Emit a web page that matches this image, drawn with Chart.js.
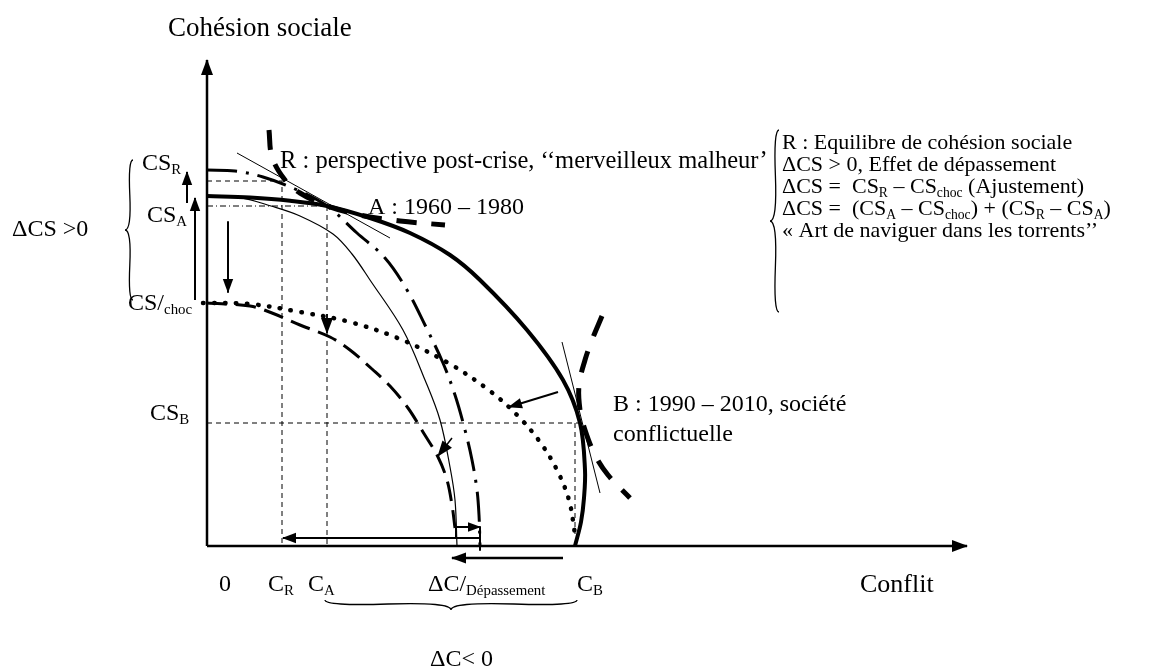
<!DOCTYPE html>
<html>
<head>
<meta charset="utf-8">
<title>Cohésion sociale et conflit</title>
<script src="https://cdn.jsdelivr.net/npm/chart.js@4.4.1/dist/chart.umd.min.js"></script>
<style>
  html, body { margin: 0; padding: 0; background: #fff; }
  canvas { display: block; }
</style>
</head>
<body>
<canvas id="myChart" width="1162" height="670"></canvas>
<script>
// levels on the two axes (conflit on x, cohesion sociale on y)
const csR = 91.25, csA = 85, csChoc = 60.75, csB = 30.75;
const cR = 18.75, cA = 30, cB = 92;

// frontier A-B (thick solid)
const frontierX = [0, 10.75, 20.75, 30, 40.75, 50.75, 60.75, 68.25, 80, 89, 93.25, 94.5, 94.25, 93.5, 92];
const frontierY = [87.5, 87.1, 86.3, 85, 82, 78.25, 72.75, 66.5, 54, 41.5, 30.75, 19, 12, 6, 0];

// inner frontier (thin solid)
const innerX = [0, 8.25, 16, 23.25, 31.5, 36.25, 40.75, 49, 54.5, 58.25, 60.75, 62, 62.5];
const innerY = [87.5, 87.1, 85, 82.5, 78, 73, 66.5, 54, 41.5, 31.5, 19.75, 11.5, 0];

// post-crisis frontier R (dash-dot)
const postX = [0, 7, 14, 22, 30, 37.5, 44.5, 50, 54.5, 59, 62, 64.5, 66.25, 67.5, 68, 68.25];
const postY = [94, 93.75, 92.25, 89.25, 85, 78.25, 72, 64, 55.25, 45.75, 37.75, 29, 21.5, 14, 7.75, 0];

// shock frontier (dotted)
const chocX = [-1, 10.75, 23.25, 35.75, 48.25, 60.75, 70.75, 77.75, 83.25, 87.5, 90.5, 92];
const chocY = [60.75, 60.5, 58.5, 56, 51.75, 45.5, 38.75, 32.5, 26, 19, 11.5, 3];

// adjusted frontier (dashed)
const adjX = [0, 10.75, 16.25, 23.25, 30.75, 35.75, 41.25, 45.75, 50.25, 54, 57.75, 60, 61.25, 62];
const adjY = [60.75, 60, 58.25, 55.25, 52.25, 49, 44.25, 40, 34.5, 28.5, 22.25, 16.5, 10.25, 4.5];

// indifference curves at R/A and at B (thick dashed)
const indifAX = [15.5, 16.25, 19.5, 23.25, 30, 38.25, 48.25, 59.5];
const indifAY = [104, 97.25, 91.5, 88.25, 85, 82.75, 81.25, 80.25];
const indifBX = [98.75, 96.25, 94.5, 93, 93.25, 94.5, 97, 100.25, 105.75];
const indifBY = [57.5, 51.5, 46.5, 40.25, 34, 29, 22.75, 17.75, 12];

// tangents
const tanAX = [7.5, 45.75], tanAY = [98.25, 77];
const tanBX = [88.75, 98.25], tanBY = [51, 13.25];

// tick labels
const xTickLabels = ['0', 'C_{R}', 'C_{A}', 'ΔC/_{Dépassement}', 'C_{B}'];
const yTickLabels = ['CS_{R}', 'CS_{A}', 'CS/_{choc}', 'CS_{B}'];

const pts = (xs, ys) => xs.map((v, i) => ({x: v, y: ys[i]}));
const seg = (...p) => p.map(q => ({x: q[0], y: q[1]}));

const F = '"Liberation Serif", "Times New Roman", serif';

function line(data, opts) {
  return Object.assign({
    data: data, showLine: true, pointRadius: 0, borderColor: '#000',
    borderWidth: 1, tension: 0, fill: false, borderJoinStyle: 'round'
  }, opts);
}

const datasets = [
  // axes
  line(seg([0, 0], [0, 121.5]), {borderWidth: 2.5, head: 15}),
  line(seg([0, 0], [190, 0]), {borderWidth: 2.5, head: 15}),
  // reference lines
  line(seg([0, csR], [cR, csR], [cR, 0]), {borderDash: [5, 4]}),
  line(seg([0, csA], [cA, csA]), {borderDash: [6, 3, 1, 3]}),
  line(seg([cA, csA], [cA, 0]), {borderDash: [5, 4]}),
  line(seg([0, csB], [cB + 0.75, csB]), {borderDash: [5, 4]}),
  line(seg([cB, csB], [cB, 3]), {borderDash: [5, 4]}),
  // curves
  line(pts(innerX, innerY), {borderWidth: 1.2, tension: 0.35}),
  line(pts(postX, postY), {borderWidth: 3, tension: 0.35, borderDash: [30, 9, 3, 9]}),
  line(pts(chocX, chocY), {borderWidth: 4.5, tension: 0.35, borderDash: [0.5, 10.5], borderCapStyle: 'round'}),
  line(pts(adjX, adjY), {borderWidth: 3, tension: 0.35, borderDash: [20, 9]}),
  line(pts(frontierX, frontierY), {borderWidth: 4, tension: 0.35}),
  line(pts(indifAX, indifAY), {borderWidth: 5, tension: 0.35, borderDash: [20, 15]}),
  line(pts(indifBX, indifBY), {borderWidth: 5, tension: 0.35, borderDash: [22, 16]}),
  line(pts(tanAX, tanAY), {borderWidth: 1}),
  line(pts(tanBX, tanBY), {borderWidth: 1}),
  // arrows
  line(seg([-3, csChoc + 0.75], [-3, 87]), {borderWidth: 2, head: 13}),
  line(seg([-5, csA + 0.75], [-5, 93.5]), {borderWidth: 2, head: 13}),
  line(seg([5.25, 81], [5.25, 63.5]), {borderWidth: 2, head: 13}),
  line(seg([cA, 58], [cA, 53.25]), {borderWidth: 1, head: 15}),
  line(seg([61.25, 27], [57.75, 22.5]), {borderWidth: 1.5, head: 15}),
  line(seg([87.75, 38.5], [75.5, 34.75]), {borderWidth: 2, head: 13}),
  line(seg([68.25, 2], [cR + 0.25, 2]), {borderWidth: 2, head: 13}),
  line(seg([62.25, 2], [62.25, 4.75], [68.25, 4.75]), {borderWidth: 2, head: 12}),
  line(seg([68.25, 4.75], [68.25, -1]), {borderWidth: 2}),
  line(seg([89, -3], [61.25, -3]), {borderWidth: 2.5, head: 14})
];

// text placement (data units), kept apart from the values
const texts = [
  {t: 'Cohésion sociale', x: -9.75, y: 129.75, s: 27},
  {t: yTickLabels[0], x: -16.25, y: 96},
  {t: yTickLabels[1], x: -15, y: 83},
  {t: yTickLabels[2], x: -19.75, y: 61},
  {t: yTickLabels[3], x: -14.25, y: 33.5},
  {t: 'ΔCS >0', x: -48.75, y: 79.5},
  {t: 'R : perspective post-crise, \u2018\u2018merveilleux malheur\u2019', x: 18.25, y: 96.5, s: 24.5},
  {t: 'A : 1960 – 1980', x: 40.25, y: 85},
  {t: 'B : 1990 – 2010, société', x: 101.5, y: 35.75},
  {t: 'conflictuelle', x: 101.5, y: 28.25},
  {t: 'R : Equilibre de cohésion sociale', x: 143.75, y: 101, s: 22},
  {t: 'ΔCS > 0, Effet de dépassement', x: 143.75, y: 95.5, s: 22},
  {t: 'ΔCS =  CS_{R} – CS_{choc} (Ajustement)', x: 143.75, y: 90, s: 22},
  {t: 'ΔCS =  (CS_{A} – CS_{choc}) + (CS_{R} – CS_{A})', x: 143.75, y: 84.5, s: 22},
  {t: '« Art de naviguer dans les torrents\u2019\u2019', x: 143.75, y: 79, s: 22},
  {t: xTickLabels[0], x: 3, y: -9.25},
  {t: xTickLabels[1], x: 15.25, y: -9.25},
  {t: xTickLabels[2], x: 25.25, y: -9.25},
  {t: xTickLabels[3], x: 55.25, y: -9.25},
  {t: xTickLabels[4], x: 92.5, y: -9.25},
  {t: 'Conflit', x: 163.25, y: -9.25, s: 26},
  {t: 'ΔC< 0', x: 55.75, y: -28}
];

const braces = [
  {a: [-18.5, 96.5], b: [-18.5, 61.5], w: 8},
  {a: [143, 104], b: [143, 58.5], w: 9},
  {a: [29.5, -13.5], b: [92.5, -13.5], w: 10}
];

function richText(ctx, str, x, mid, size) {
  const parts = str.split(/_\{([^}]*)\}/);
  const base = mid + size * 0.33;
  let cx = x;
  parts.forEach((p, i) => {
    if (!p) return;
    const sub = i % 2 === 1;
    ctx.font = (sub ? size * 0.62 : size) + 'px ' + F;
    ctx.fillText(p, cx, sub ? base + size * 0.17 : base);
    cx += ctx.measureText(p).width;
  });
}

function brace(ctx, x1, y1, x2, y2, w) {
  const q = 0.6;
  let dx = x1 - x2, dy = y1 - y2;
  const len = Math.sqrt(dx * dx + dy * dy);
  dx /= len; dy /= len;
  const qx1 = x1 + q * w * dy, qy1 = y1 - q * w * dx;
  const qx2 = (x1 - 0.25 * len * dx) + (1 - q) * w * dy, qy2 = (y1 - 0.25 * len * dy) - (1 - q) * w * dx;
  const tx = (x1 - 0.5 * len * dx) + w * dy, ty = (y1 - 0.5 * len * dy) - w * dx;
  const qx3 = x2 + q * w * dy, qy3 = y2 - q * w * dx;
  const qx4 = (x1 - 0.75 * len * dx) + (1 - q) * w * dy, qy4 = (y1 - 0.75 * len * dy) - (1 - q) * w * dx;
  ctx.beginPath();
  ctx.moveTo(x1, y1);
  ctx.quadraticCurveTo(qx1, qy1, qx2, qy2);
  ctx.quadraticCurveTo(2 * qx2 - qx1, 2 * qy2 - qy1, tx, ty);
  ctx.moveTo(x2, y2);
  ctx.quadraticCurveTo(qx3, qy3, qx4, qy4);
  ctx.quadraticCurveTo(2 * qx4 - qx3, 2 * qy4 - qy3, tx, ty);
  ctx.stroke();
}

const annotate = {
  id: 'annotate',
  afterDatasetsDraw(chart) {
    const ctx = chart.ctx;
    const sx = chart.scales.x, sy = chart.scales.y;
    ctx.save();
    ctx.fillStyle = '#000';
    ctx.strokeStyle = '#000';
    // arrow heads
    chart.data.datasets.forEach((ds, i) => {
      if (!ds.head) return;
      const el = chart.getDatasetMeta(i).data;
      const a = el[el.length - 2], b = el[el.length - 1];
      const ang = Math.atan2(b.y - a.y, b.x - a.x);
      ctx.save();
      ctx.translate(b.x, b.y);
      ctx.rotate(ang);
      ctx.beginPath();
      ctx.moveTo(1, 0);
      ctx.lineTo(-ds.head, -ds.head * 0.4);
      ctx.lineTo(-ds.head, ds.head * 0.4);
      ctx.closePath();
      ctx.fill();
      ctx.restore();
    });
    // braces
    ctx.lineWidth = 1.3;
    braces.forEach(b => {
      brace(ctx, sx.getPixelForValue(b.a[0]), sy.getPixelForValue(b.a[1]),
        sx.getPixelForValue(b.b[0]), sy.getPixelForValue(b.b[1]), b.w);
    });
    // texts
    ctx.textAlign = 'left';
    ctx.textBaseline = 'alphabetic';
    texts.forEach(o => {
      richText(ctx, o.t, sx.getPixelForValue(o.x), sy.getPixelForValue(o.y), o.s || 24);
    });
    ctx.restore();
  }
};

const ctx = document.getElementById('myChart');
new Chart(ctx, {
  type: 'scatter',
  data: {datasets: datasets},
  options: {
    responsive: false,
    animation: false,
    events: [],
    layout: {padding: 0},
    plugins: {legend: {display: false}, tooltip: {enabled: false}, title: {display: false}},
    scales: {
      x: {type: 'linear', display: false, min: -51.75, max: 238.75},
      y: {type: 'linear', display: false, min: -31, max: 136.5}
    }
  },
  plugins: [annotate]
});
</script>
</body>
</html>
